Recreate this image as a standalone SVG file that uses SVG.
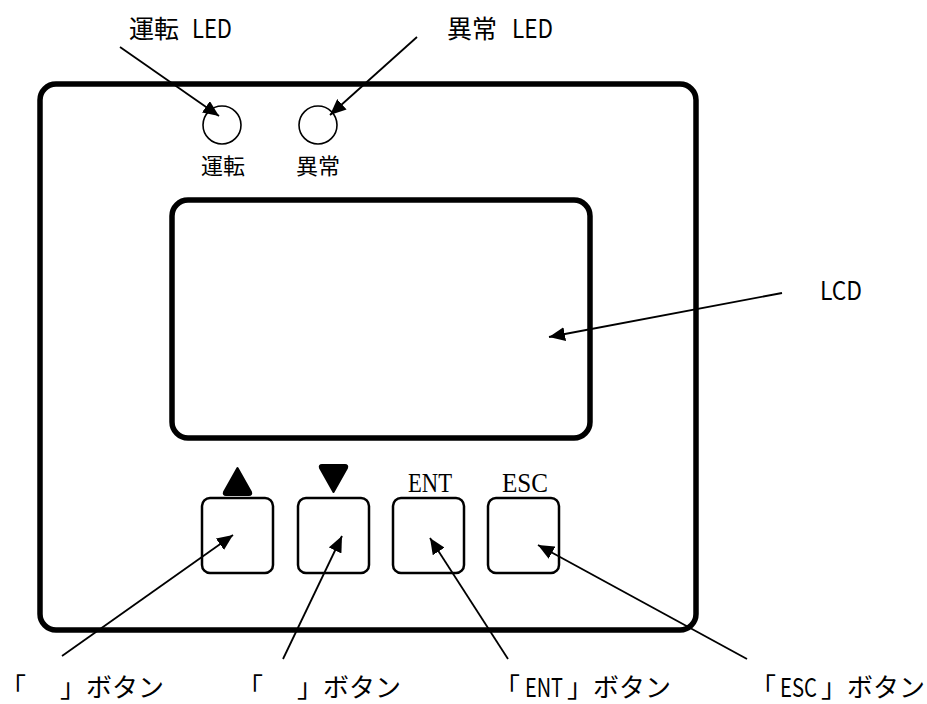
<svg xmlns="http://www.w3.org/2000/svg" width="927" height="704" viewBox="0 0 927 704">
<defs>
<marker id="ah" markerUnits="userSpaceOnUse" markerWidth="18" markerHeight="14" refX="16" refY="7" orient="auto">
<path d="M0,0 L16,7 L0,14 Z" fill="#000"/>
</marker>
<style>
.t{font-family:"Noto Sans CJK JP","Noto Sans",sans-serif;fill:#000}
.s{font-family:"Liberation Serif","Times New Roman",serif;fill:#000}
.c{fill:none;stroke:#000;stroke-width:1.8;marker-end:url(#ah)}
.btn{fill:#fff;stroke:#000;stroke-width:2.5}
.led{fill:#fff;stroke:#000;stroke-width:1.6}
</style>
</defs>
<rect width="927" height="704" fill="#fff"/>
<g id="panel"><rect x="40" y="84" width="656" height="546" rx="16" fill="none" stroke="#000" stroke-width="5.5"/></g>
<g id="lcd"><rect x="172" y="200" width="418" height="238" rx="16" fill="#fff" stroke="#000" stroke-width="5.5"/></g>
<g id="led-run"><circle cx="222" cy="125" r="19" class="led"/><text class="t" x="223" y="174" font-size="22" text-anchor="middle">運転</text></g>
<g id="led-err"><circle cx="318" cy="125" r="19" class="led"/><text class="t" x="318" y="174" font-size="22" text-anchor="middle">異常</text></g>
<g id="btn-up"><rect x="202" y="498" width="71" height="75" rx="8" class="btn"/><path d="M237.5,468 L251,492 Q252,495 249,495 L226,495 Q223,495 224,492 Z" fill="#000" stroke="#000" stroke-width="2" stroke-linejoin="round"/></g>
<g id="btn-down"><rect x="298" y="498" width="71" height="75" rx="8" class="btn"/><path d="M333.5,492 L347,468 Q348,465 345,465 L322,465 Q319,465 320,468 Z" fill="#000" stroke="#000" stroke-width="2" stroke-linejoin="round"/></g>
<g id="btn-ent"><rect x="393" y="498" width="71" height="75" rx="8" class="btn"/><text class="s" x="408" y="492" font-size="28" textLength="44" lengthAdjust="spacingAndGlyphs">ENT</text></g>
<g id="btn-esc"><rect x="488" y="498" width="71" height="75" rx="8" class="btn"/><text class="s" x="502" y="492" font-size="28" textLength="46" lengthAdjust="spacingAndGlyphs">ESC</text></g>
<g id="labels">
<text class="t" y="38" font-size="25"><tspan x="129">運転</tspan><tspan x="192" textLength="40" lengthAdjust="spacingAndGlyphs">LED</tspan></text>
<text class="t" y="38" font-size="25"><tspan x="447">異常</tspan><tspan x="512" textLength="41" lengthAdjust="spacingAndGlyphs">LED</tspan></text>
<text class="t" x="820" y="300" font-size="25" textLength="42" lengthAdjust="spacingAndGlyphs">LCD</text>
<text class="t" y="697" font-size="26"><tspan x="0">「</tspan><tspan x="60">」ボタン</tspan></text>
<text class="t" y="697" font-size="26"><tspan x="237">「</tspan><tspan x="297">」ボタン</tspan></text>
<text class="t" y="697" font-size="26"><tspan x="494">「</tspan><tspan x="525" textLength="38" lengthAdjust="spacingAndGlyphs">ENT</tspan><tspan x="567">」ボタン</tspan></text>
<text class="t" y="697" font-size="26"><tspan x="750">「</tspan><tspan x="780" textLength="37" lengthAdjust="spacingAndGlyphs">ESC</tspan><tspan x="821">」ボタン</tspan></text>
</g>
<g id="connectors">
<line x1="120" y1="47" x2="219" y2="116" class="c"/>
<line x1="417" y1="37" x2="330" y2="115" class="c"/>
<line x1="782" y1="293" x2="549" y2="337" class="c"/>
<line x1="62" y1="656" x2="233" y2="535" class="c"/>
<line x1="283" y1="659" x2="342" y2="536" class="c"/>
<line x1="508" y1="659" x2="430" y2="538" class="c"/>
<line x1="747" y1="659" x2="538" y2="545" class="c"/>
</g>
</svg>
